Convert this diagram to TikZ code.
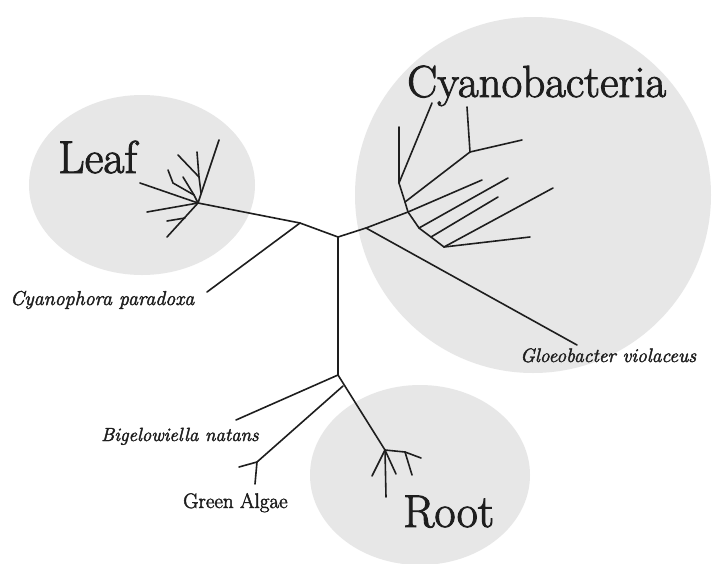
\documentclass[tikz,border=0pt]{standalone}
\usepackage{fontspec}
\newfontfamily\heavyfont{Latin Modern Roman}[FakeBold=2]
\newfontfamily\mediumfont{Latin Modern Roman}[FakeBold=2.2]
\definecolor{blobgray}{RGB}{231,231,231}
\definecolor{inkcol}{RGB}{30,30,30}
\begin{document}
\begin{tikzpicture}[x=1pt,y=-1pt,
  branch/.style={line width=1.6pt, line cap=round, line join=round, draw=inkcol},
  blob/.style={fill=blobgray, draw=none},
  bigtxt/.style={font=\heavyfont\fontsize{46}{46}\selectfont, inner sep=0pt, anchor=base west, text=inkcol},
  smalltxt/.style={font=\mediumfont\fontsize{19.5}{19.5}\selectfont\itshape, inner sep=0pt, anchor=base west, text=inkcol},
  smallup/.style={font=\mediumfont\fontsize{21}{21}\selectfont, inner sep=0pt, anchor=base west, text=inkcol}]
\useasboundingbox (0,0) rectangle (713,563);
\fill[white] (0,0) rectangle (713,563);
% grey blobs
\fill[blob] (142,185) ellipse [x radius=113pt, y radius=90pt];
\fill[blob] (533,195) circle [radius=178pt];
\fill[blob] (420,475) ellipse [x radius=110pt, y radius=90pt];
% labels
\node[bigtxt] (leaf) at (58,173) {Leaf};
\node[bigtxt, font=\heavyfont\fontsize{45}{45}\selectfont] (cyano) at (407,97) {Cyanobacteria};
\node[bigtxt] (root) at (403,527) {Root};
\node[smalltxt, font=\mediumfont\fontsize{20}{20}\selectfont\itshape] (cpar) at (10,305) {Cyanophora paradoxa};
\node[smalltxt] (gvio) at (520,362) {Gloeobacter violaceus};
\node[smalltxt, font=\mediumfont\fontsize{19}{19}\selectfont\itshape] (bnat) at (101,441) {Bigelowiella natans};
\node[smallup] (galg) at (183,508) {Green Algae};
% main tree points
\coordinate (C) at (338,237);
\coordinate (L1) at (300,223);
\coordinate (J) at (198,203);
\coordinate (CyE) at (207,292);
\coordinate (R1) at (366,228);
\coordinate (GlE) at (577,345);
\coordinate (V) at (338,375);
\coordinate (BgE) at (236,420);
\coordinate (D) at (343,386);
\coordinate (F) at (257,462);
\coordinate (F1) at (239,467);
\coordinate (F2) at (255,484);
\coordinate (Rr) at (385,450);
\coordinate (Rr1) at (372,476);
\coordinate (Rr2) at (386,497);
\coordinate (Rr3) at (396,474);
\coordinate (Rr4) at (405,452);
\coordinate (Rr5) at (421,458);
\coordinate (Rr6) at (412,475);
% leaf cluster points
\coordinate (Lup) at (219,140);
\coordinate (P1) at (201,193);
\coordinate (A) at (199,177);
\coordinate (A1) at (178,155);
\coordinate (A2) at (197,152);
\coordinate (B) at (194,195);
\coordinate (Bm) at (173,183);
\coordinate (Bt) at (168,170);
\coordinate (Bs) at (183,177);
\coordinate (Lleft) at (140,183);
\coordinate (Llow) at (147,212);
\coordinate (Ldown) at (167,237);
\coordinate (Q) at (185,218);
\coordinate (Q1) at (167,221);
% cyano cluster points
\coordinate (B0) at (399,183);
\coordinate (Bv) at (399,127);
\coordinate (Bd) at (432,103);
\coordinate (B1) at (405,202);
\coordinate (N) at (470,152);
\coordinate (N1) at (467,107);
\coordinate (N2) at (522,140);
\coordinate (K) at (408,212);
\coordinate (K1) at (482,180);
\coordinate (B3) at (419,228);
\coordinate (B3e) at (508,178);
\coordinate (B4) at (431,237);
\coordinate (B4e) at (498,197);
\coordinate (B5) at (444,247);
\coordinate (B5e) at (553,188);
\coordinate (B5f) at (530,237);
% main branches
\draw[branch] (J) -- (L1) -- (C) -- (R1) -- (K);
\draw[branch] (L1) -- (CyE);
\draw[branch] (R1) -- (GlE);
\draw[branch] (C) -- (V) -- (BgE);
\draw[branch] (V) -- (Rr);
\draw[branch] (D) -- (F) -- (F1);
\draw[branch] (F) -- (F2);
% root cluster
\draw[branch] (Rr) -- (Rr1);
\draw[branch] (Rr) -- (Rr2);
\draw[branch] (Rr) -- (Rr3);
\draw[branch] (Rr) -- (Rr4) -- (Rr5);
\draw[branch] (Rr4) -- (Rr6);
% leaf cluster
\draw[branch] (J) -- (Lup);
\draw[branch] (P1) -- (A) -- (A1);
\draw[branch] (A) -- (A2);
\draw[branch] (J) -- (B) -- (Bm) -- (Bt);
\draw[branch] (B) -- (Bs);
\draw[branch] (J) -- (Lleft);
\draw[branch] (J) -- (Llow);
\draw[branch] (J) -- (Ldown);
\draw[branch] (Q) -- (Q1);
% cyano cluster
\draw[branch] (Bv) -- (B0) -- (B1) -- (K) -- (B3) -- (B4) -- (B5);
\draw[branch] (B0) -- (Bd);
\draw[branch] (B1) -- (N) -- (N1);
\draw[branch] (N) -- (N2);
\draw[branch] (K) -- (K1);
\draw[branch] (B3) -- (B3e);
\draw[branch] (B4) -- (B4e);
\draw[branch] (B5) -- (B5e);
\draw[branch] (B5) -- (B5f);
\end{tikzpicture}
\end{document}
